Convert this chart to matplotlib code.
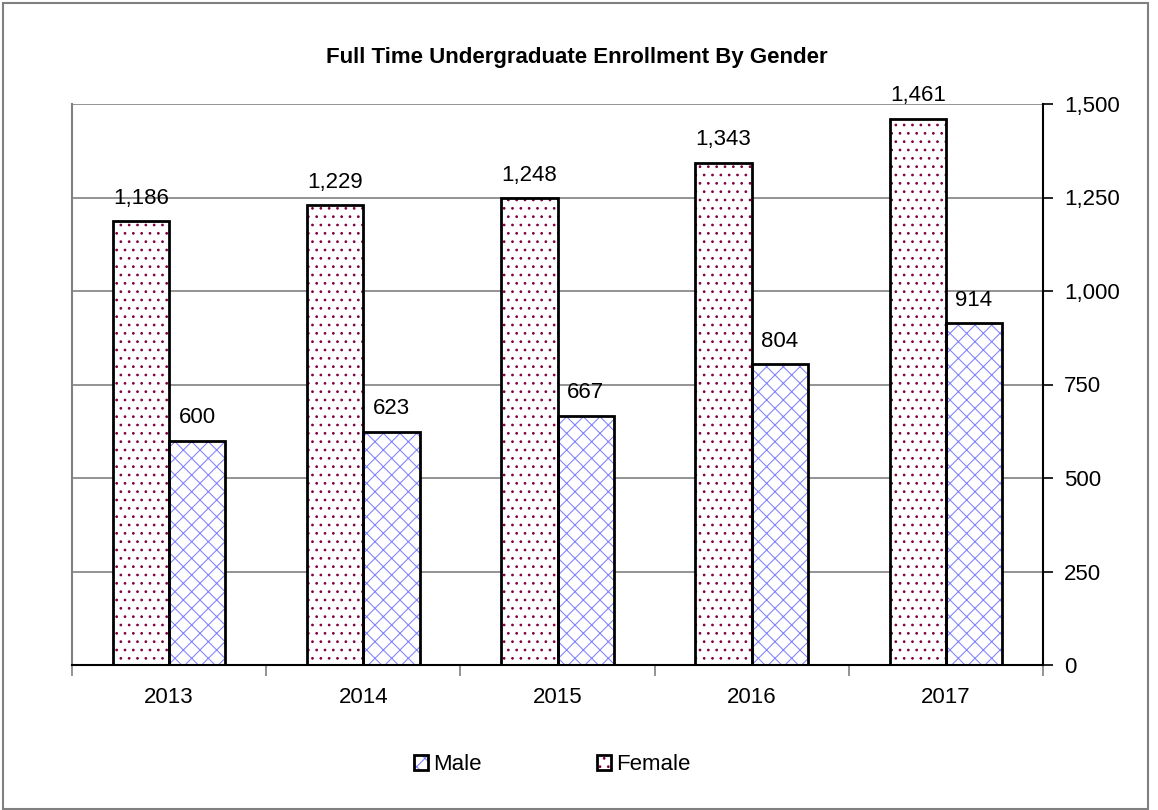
import matplotlib
matplotlib.use("Agg")
import matplotlib.pyplot as plt
from matplotlib.patches import Patch
from matplotlib.legend_handler import HandlerTuple
import numpy as np

years = ["2013", "2014", "2015", "2016", "2017"]
female = [1186, 1229, 1248, 1343, 1461]
male = [600, 623, 667, 804, 914]
yticks = [0, 250, 500, 750, 1000, 1250, 1500]

plt.rcParams['font.family'] = ['Liberation Sans', 'DejaVu Sans']
plt.rcParams['hatch.linewidth'] = 0.75

fig = plt.figure(figsize=(11.58, 8.10), dpi=100)
ax = fig.add_axes([72/1158, 1-665/810, (1043-72)/1158, (665-104)/810])

x = np.arange(len(years))
w = 0.29
fem_col = '#800040'
male_col = '#8080FF'
fs = 16

ax.bar(x - w/2, female, w, color='white', edgecolor=fem_col, hatch='..', linewidth=0, zorder=2)
ax.bar(x - w/2, female, w, fill=False, edgecolor='black', linewidth=2, zorder=3)
ax.bar(x + w/2, male, w, color='white', edgecolor=male_col, hatch='xx', linewidth=0, zorder=2)
ax.bar(x + w/2, male, w, fill=False, edgecolor='black', linewidth=2, zorder=3)

for xi, v in zip(x - w/2, female):
    ax.annotate(f"{v:,}", (xi, v), xytext=(0, 9), textcoords='offset points',
                ha='center', va='bottom', fontsize=fs)
for xi, v in zip(x + w/2, male):
    ax.annotate(f"{v:,}", (xi, v), xytext=(0, 9), textcoords='offset points',
                ha='center', va='bottom', fontsize=fs)

ax.set_xlim(-0.5, len(years) - 0.5)
ax.set_ylim(0, 1500)
ax.yaxis.tick_right()
ax.set_yticks(yticks)
ax.set_yticklabels([f"{t:,}" for t in yticks], fontsize=fs)
ax.tick_params(axis='y', direction='out', length=7, width=1.2, color='black', pad=8)
ax.grid(axis='y', color='#808080', linewidth=1.2, zorder=0)
ax.set_axisbelow(True)

ax.set_xticks(x)
ax.set_xticklabels(years, fontsize=fs)
ax.tick_params(axis='x', length=0, pad=16)
ax.set_xticks(np.arange(-0.5, len(years)), minor=True)
ax.tick_params(axis='x', which='minor', length=8, width=1.2, color='#808080', direction='out')

ax.spines['top'].set_visible(False)
ax.spines['left'].set_color('#808080')
ax.spines['left'].set_linewidth(1.5)
ax.spines['right'].set_color('black')
ax.spines['right'].set_linewidth(1.5)
ax.spines['bottom'].set_color('black')
ax.spines['bottom'].set_linewidth(1.5)

fig.text(577/1158, 1-58/810, "Full Time Undergraduate Enrollment By Gender",
         ha='center', va='center', fontsize=16, fontweight='bold')

h_male = (Patch(facecolor='white', edgecolor=male_col, hatch='xx', linewidth=0),
          Patch(fill=False, edgecolor='black', linewidth=2))
h_fem = (Patch(facecolor='white', edgecolor=fem_col, hatch='..', linewidth=0),
         Patch(fill=False, edgecolor='black', linewidth=2))
leg = fig.legend([h_male, h_fem], ['Male', 'Female'], loc='center',
                 bbox_to_anchor=(552/1158, 1-765/810), ncol=2,
                 handler_map={tuple: HandlerTuple(ndivide=1)},
                 frameon=False, fontsize=fs, handlelength=0.65, handleheight=0.65,
                 handletextpad=0.2, columnspacing=5.2)

border = plt.Rectangle((3/1158, 1/810), 1145/1158, 806/810, transform=fig.transFigure,
                       fill=False, edgecolor='#808080', linewidth=1.5)
fig.patches.append(border)

fig.savefig("out.png", dpi=100)
